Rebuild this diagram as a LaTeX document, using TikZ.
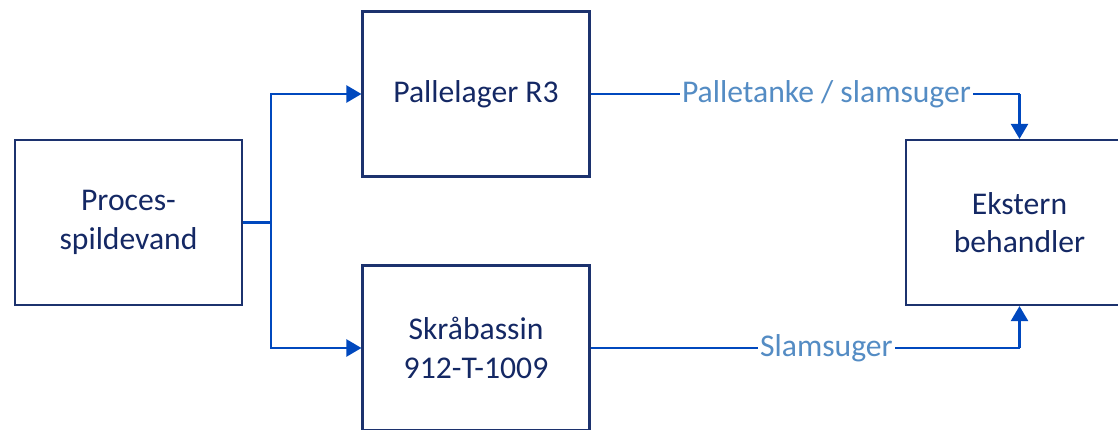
\documentclass[tikz,border=0pt]{standalone}
\usepackage{fontspec}
\setmainfont{Carlito}
\usepackage{xcolor}
\usetikzlibrary{
		positioning,
		arrows.meta
	}
\definecolor{boxline}{RGB}{28,50,110}
\definecolor{boxtext}{RGB}{20,40,100}
\definecolor{flowline}{RGB}{0,72,190}
\definecolor{flowtext}{RGB}{84,140,196}
\tikzset{
		>={Triangle[length=0.3cm, width=0.34cm]}
	}

\begin{document}
\begin{tikzpicture}[
					unit/.style={draw=boxline, line width=1.2pt, minimum width=4.54cm, minimum height=3.3cm,
						align=center, text=boxtext, font=\fontsize{18}{22}\selectfont},
					flow/.style={draw=flowline, line width=1.3pt},
					route/.style={fill=white, text=flowtext, inner xsep=1pt, inner ysep=2pt,
						font=\fontsize{18}{21}\selectfont}]
		\useasboundingbox (0,0) rectangle (22.36,8.6);
		\clip (0,0) rectangle (22.36,8.6);
		% boxes
		\node[unit] (proc) at (2.57,4.15) {Proces-\\spildevand};
		\node[unit] (pall) at (9.52,6.72) {Pallelager R3};
		\node[unit] (skra) at (9.52,1.64) {Skråbassin\\912-T-1009};
		\node[unit] (ekst) at (20.39,4.15) {Ekstern\\behandler};
		\coordinate[right=0.56cm of proc.east] (split);
		% flows
		\draw[flow] (proc.east) -- (split);
		\draw[flow, ->] (split) |- (pall.west);
		\draw[flow, ->] (split) |- (skra.west);
		\draw[flow] (pall.east) -- node[route, pos=0.55] {Palletanke / slamsuger} (pall.east -| ekst.north);
		\draw[flow, ->] (pall.east -| ekst.north) -- (ekst.north);
		\draw[flow] (skra.east) -- node[route, pos=0.55] {Slamsuger} (skra.east -| ekst.south);
		\draw[flow, ->] (skra.east -| ekst.south) -- (ekst.south);
	\end{tikzpicture}
\end{document}
